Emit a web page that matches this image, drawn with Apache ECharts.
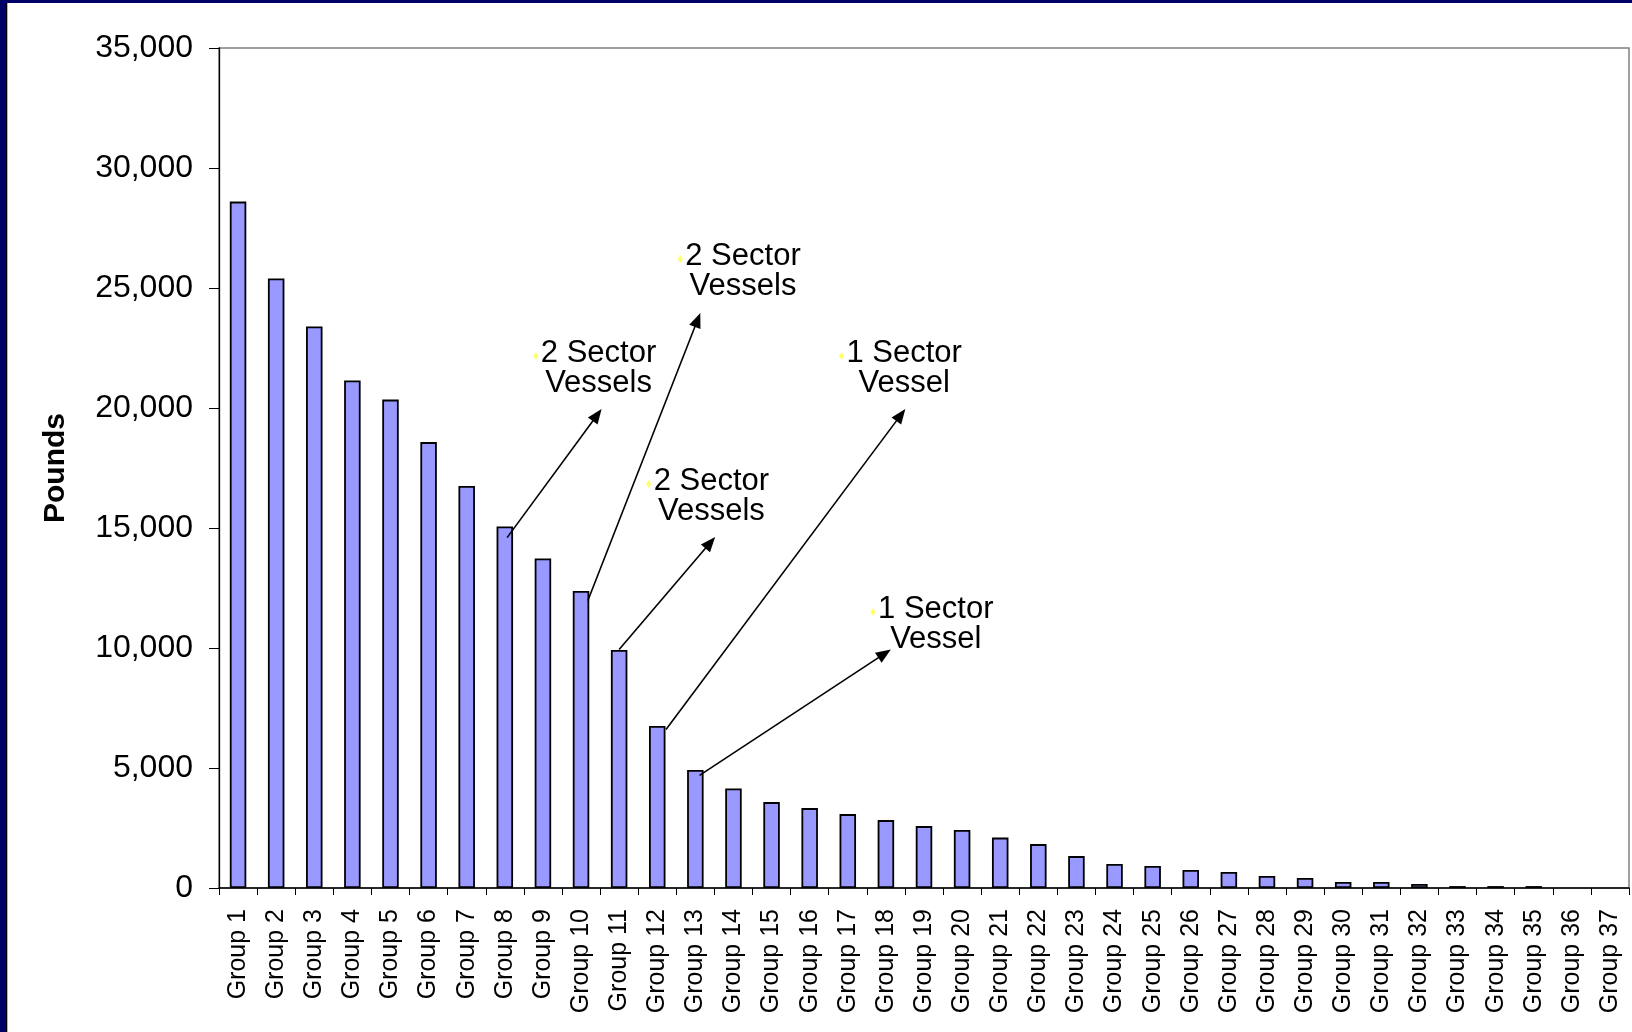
<!DOCTYPE html>
<html><head><meta charset="utf-8">
<script src="https://cdn.jsdelivr.net/npm/echarts@6/dist/echarts.min.js"></script>
<style>html,body{margin:0;padding:0;background:#fff;overflow:hidden;} #c{width:1632px;height:1032px;}</style>
</head><body><div id="c"></div>
<script>
// ---- data ----
const categories = ['Group 1','Group 2','Group 3','Group 4','Group 5','Group 6','Group 7','Group 8','Group 9','Group 10',
  'Group 11','Group 12','Group 13','Group 14','Group 15','Group 16','Group 17','Group 18','Group 19','Group 20',
  'Group 21','Group 22','Group 23','Group 24','Group 25','Group 26','Group 27','Group 28','Group 29','Group 30',
  'Group 31','Group 32','Group 33','Group 34','Group 35','Group 36','Group 37'];
const pounds = [28600, 25400, 23400, 21150, 20350, 18580, 16750, 15060, 13730, 12380,
  9920, 6750, 4920, 4150, 3580, 3330, 3080, 2830, 2580, 2420,
  2100, 1830, 1330, 1000, 920, 750, 670, 500, 420, 250,
  250, 170, 80, 80, 80, 0, 0];
const yMin = 0, yMax = 35000, yStep = 5000;
const yTitle = 'Pounds';
// annotations: [category index (fractional), value]
const annoText = ['2 Sector\nVessels', '2 Sector\nVessels', '2 Sector\nVessels', '1 Sector\nVessel', '1 Sector\nVessel'];
const annoTextAt = [[9.46, 22290], [13.25, 26330], [12.42, 16960], [17.48, 22290], [18.31, 11620]];
const arrowFrom = [[7.06, 14600], [9.18, 11980], [10.0, 9940], [11.23, 6600], [12.11, 4690]];
const arrowTo = [[9.54, 19960], [12.13, 23960], [12.52, 14630], [17.51, 19960], [17.13, 9940]];

const FONT = '"Liberation Sans", Arial, sans-serif';
const chart = echarts.init(document.getElementById('c'), null, {renderer: 'canvas'});
chart.setOption({
  animation: false,
  backgroundColor: '#ffffff',
  grid: {left: 219, top: 48, right: 3, bottom: 144, show: true, borderColor: '#808080', borderWidth: 1.5, backgroundColor: 'transparent'},
  xAxis: {
    type: 'category', data: categories,
    axisLine: {lineStyle: {color: '#000', width: 1.5}},
    axisTick: {show: true, alignWithLabel: false, length: 7, lineStyle: {color: '#000', width: 1}},
    axisLabel: {rotate: 90, interval: 0, fontSize: 25, fontFamily: FONT, color: '#000', margin: 21}
  },
  yAxis: {
    type: 'value', min: yMin, max: yMax, interval: yStep,
    name: yTitle, nameLocation: 'middle', nameRotate: 90, nameGap: 148,
    nameTextStyle: {fontSize: 30, fontWeight: 'bold', fontFamily: FONT, color: '#000'},
    axisLine: {show: true, lineStyle: {color: '#000', width: 1.3}},
    axisTick: {show: true, length: 10, lineStyle: {color: '#000', width: 1}},
    splitLine: {show: false},
    axisLabel: {fontSize: 32, fontFamily: FONT, color: '#000', margin: 26,
      formatter: v => v.toLocaleString('en-US')}
  },
  series: [{type: 'bar', barWidth: 16.5,
    data: pounds.map(v => v === 0 ? {value: v, itemStyle: {borderWidth: 0}} : v),
    itemStyle: {color: '#9999FF', borderColor: '#000', borderWidth: 1.8}}]
});

function toPx(pt) {
  const i0 = Math.floor(pt[0]), f = pt[0] - i0;
  const a = chart.convertToPixel({gridIndex: 0}, [i0, pt[1]]);
  const b = chart.convertToPixel({gridIndex: 0}, [i0 + 1, pt[1]]);
  return [a[0] + (b[0] - a[0]) * f, a[1]];
}

const elements = [];
// slide frame (top & left)
elements.push({type: 'rect', shape: {x: 0, y: 0, width: 1632, height: 3}, style: {fill: '#000066'}, z: 100});
elements.push({type: 'rect', shape: {x: 0, y: 0, width: 6, height: 1032}, style: {fill: '#000066'}, z: 100});
elements.push({type: 'rect', shape: {x: 6, y: 3, width: 1.3, height: 1029}, style: {fill: '#000'}, z: 100});

arrowFrom.forEach((from, k) => {
  const p0 = toPx(from), p1 = toPx(arrowTo[k]);
  const dx = p1[0] - p0[0], dy = p1[1] - p0[1], L = Math.hypot(dx, dy);
  const ux = dx / L, uy = dy / L, hl = 15, hw = 6;
  const bx = p1[0] - ux * hl, by = p1[1] - uy * hl;
  elements.push({type: 'line', shape: {x1: p0[0], y1: p0[1], x2: bx + ux * 2, y2: by + uy * 2},
    style: {stroke: '#000', lineWidth: 1.6}, z: 50});
  elements.push({type: 'polygon', shape: {points: [[p1[0], p1[1]], [bx - uy * hw, by + ux * hw], [bx + uy * hw, by - ux * hw]]},
    style: {fill: '#000'}, z: 50});
});

const ANNO_SIZE = 31;
const ctx = document.createElement('canvas').getContext('2d');
ctx.font = ANNO_SIZE + 'px "Liberation Sans"';
annoText.forEach((t, k) => {
  const c = toPx(annoTextAt[k]);
  const lines = t.split('\n');
  lines.forEach((ln, j) => {
    elements.push({type: 'text', x: c[0], y: c[1] + j * 30.5,
      style: {text: ln, fontSize: ANNO_SIZE, fontFamily: FONT, fill: '#000', align: 'center', verticalAlign: 'middle'}, z: 60});
  });
  const w1 = ctx.measureText(lines[0]).width;
  const bxp = c[0] - w1 / 2 - 5, byp = c[1] + 3;
  elements.push({type: 'polygon', shape: {points: [[bxp, byp - 4], [bxp + 2.5, byp], [bxp, byp + 4], [bxp - 2.5, byp]]},
    style: {fill: '#FFFF66'}, z: 60});
});
chart.setOption({graphic: {elements: elements}});
</script>
</body></html>
